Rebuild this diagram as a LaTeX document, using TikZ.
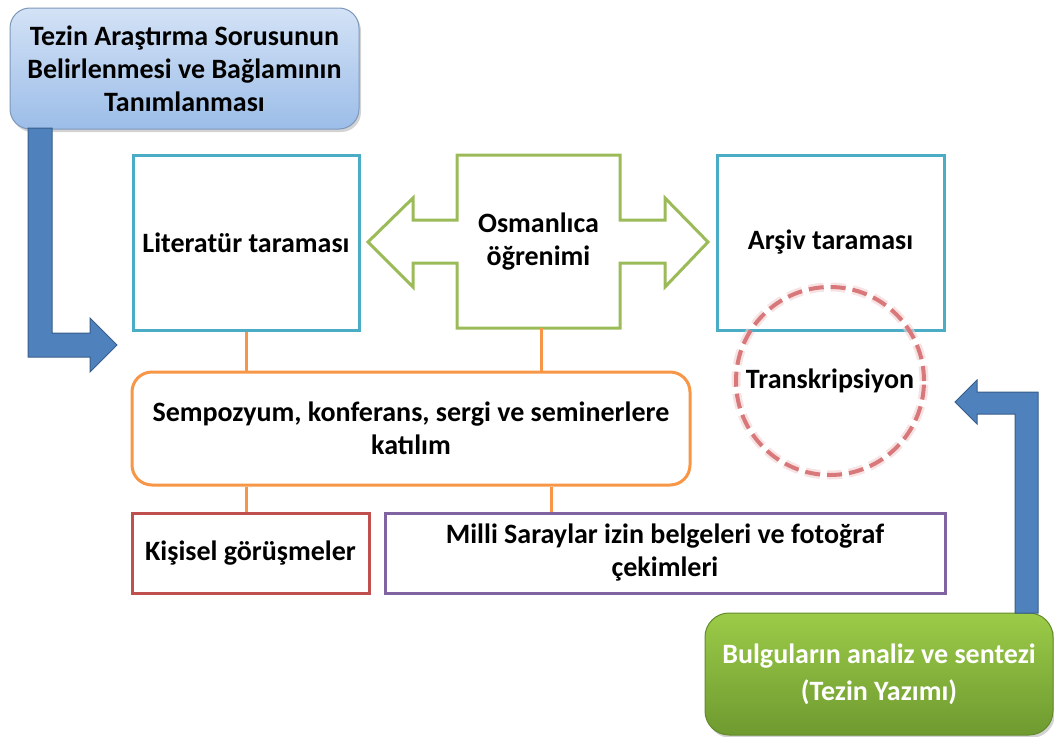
\documentclass[tikz,border=0pt]{standalone}
\usepackage{fontspec}
\setmainfont{Carlito}
\usetikzlibrary{shadows,calc}
\definecolor{boxteal}{HTML}{4BACC6}
\definecolor{boxgreen}{HTML}{9BBB59}
\definecolor{boxorange}{HTML}{F79646}
\definecolor{boxred}{HTML}{C0504D}
\definecolor{boxpurple}{HTML}{8064A2}
\definecolor{arrowblue}{HTML}{4F81BD}
\definecolor{arrowedge}{HTML}{385D8A}
\definecolor{circred}{HTML}{D9787A}
\definecolor{topA}{HTML}{D3E2F6}
\definecolor{topB}{HTML}{9CBDE8}
\definecolor{grA}{HTML}{9CCB48}
\definecolor{grB}{HTML}{6E9A30}
\tikzset{
  txt/.style={font=\bfseries\fontsize{28}{33}\selectfont, align=center, text=black},
  plainbox/.style={txt, draw, line width=3pt, inner sep=0pt},
  bluearrow/.style={fill=arrowblue, draw=arrowedge, line width=1pt},
  link/.style={draw=boxorange, line width=3pt},
}
\begin{document}
\begin{tikzpicture}[x=1pt,y=-1pt]
\useasboundingbox (0,0) rectangle (1054,736);

% top blue box
\node[txt, rounded corners=20pt, top color=topA, bottom color=topB, draw=topB!80!black, line width=1pt,
  drop shadow={opacity=0.35, shadow xshift=2pt, shadow yshift=-3pt},
  minimum width=349pt, minimum height=121pt, inner sep=0pt] (top) at (184.5,68.5)
  {Tezin Araştırma Sorusunun\\Belirlenmesi ve Bağlamının\\Tanımlanması};

% blue elbow arrow left
\path[bluearrow] (28,128) -- (52,128) -- (52,333) -- (90,333) -- (90,318) -- (117,345)
  -- (90,372) -- (90,357) -- (28,357) -- cycle;

% Literatür
\node[plainbox, draw=boxteal, minimum width=226pt, minimum height=175pt] (lit) at (246,242.5) {Literatür taraması};
% Arşiv
\node[plainbox, draw=boxteal, minimum width=227pt, minimum height=175pt] (ars) at (830.5,242.5) {Arşiv taraması};

% Osmanlıca double arrow
\node[txt, minimum width=163pt, minimum height=173pt, inner sep=0pt] (osm) at (538.5,241.5) {Osmanlıca\\öğrenimi};
\draw[boxgreen, line width=3pt, line join=miter]
  (457,155) -- (620,155) -- (620,220) -- (665,220) -- (665,198) -- (708,242) -- (665,287)
  -- (665,263) -- (620,263) -- (620,328) -- (457,328) -- (457,263) -- (413,263) -- (413,287)
  -- (368,242) -- (413,198) -- (413,220) -- (457,220) -- cycle;

% Sempozyum
\node[plainbox, draw=boxorange, rounded corners=20pt, minimum width=558pt, minimum height=113pt] (sem) at (411,428.5)
  {Sempozyum, konferans, sergi ve seminerlere\\katılım};

% Kişisel and Milli
\node[plainbox, draw=boxred, minimum width=237pt, minimum height=80pt] (kis) at (250.5,553) {Kişisel görüşmeler};
\node[plainbox, draw=boxpurple, minimum width=560pt, minimum height=80pt] (mil) at (665,553)
  {Milli Saraylar izin belgeleri ve fotoğraf\\çekimleri};

% connectors
\coordinate (c1) at (246,0);
\coordinate (c2) at (541,0);
\coordinate (c3) at (551,0);
\draw[link] (lit.south) -- (sem.north -| lit.south);
\draw[link] (osm.south -| c2) -- (sem.north -| c2);
\draw[link] (sem.south -| c1) -- (kis.north -| c1);
\draw[link] (sem.south -| c3) -- (mil.north -| c3);

% Transkripsiyon dashed circle
\node[txt, circle, minimum size=188pt, inner sep=0pt] (tra) at (830,381) {};
\draw[circred!35, line width=9pt, opacity=0.6, dash pattern=on 15pt off 7pt] (tra.center) circle (94pt);
\draw[circred, line width=4pt, dash pattern=on 15pt off 7pt] (tra.center) circle (94pt);
\node[txt] at (tra.center) {Transkripsiyon};

% green box
\node[txt, text=white, rounded corners=24pt, top color=grA, bottom color=grB, draw=grB!90!black, line width=1pt,
  drop shadow={opacity=0.35, shadow xshift=2pt, shadow yshift=-3pt},
  minimum width=348pt, minimum height=122pt, inner sep=0pt, font=\bfseries\fontsize{28}{37}\selectfont] (grn) at (879,674)
  {Bulguların analiz ve sentezi\\(Tezin Yazımı)};

% blue elbow arrow right
\path[bluearrow] (1015,613) -- (1015,414) -- (977,414) -- (977,424) -- (955,402) -- (977,380)
  -- (977,392) -- (1038,392) -- (1038,613) -- cycle;
\end{tikzpicture}
\end{document}
